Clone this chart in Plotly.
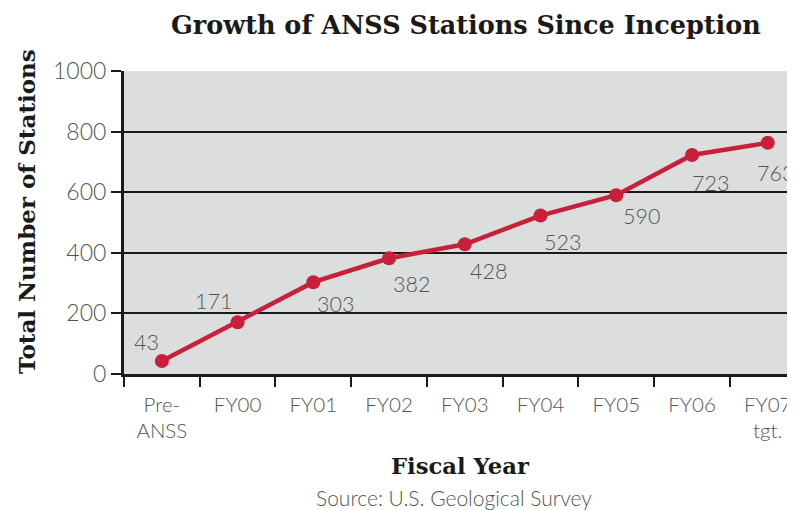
import plotly.graph_objects as go

categories = ["Pre-<br>ANSS", "FY00", "FY01", "FY02", "FY03", "FY04", "FY05", "FY06", "FY07<br>tgt."]
stations = [43, 171, 303, 382, 428, 523, 590, 723, 763]
y_ticks = [0, 200, 400, 600, 800, 1000]

# label offsets (px) from each point: (dx, dy) with dy positive = downward
label_offsets = [(-15, -19), (-24, -21), (22, 22), (22, 26), (24, 27),
                 (22, 26), (25, 21), (18, 28), (8, 30)]

RED = "#c8203a"
GREY_TXT = "#555555"
SANS = "Lato"
SERIF = "DejaVu Serif"

# page body adds an 8px offset; plot area is 116..787 (fig px), 63..366
L, T, PW, PH = 116, 63, 671, 303

def px(x):
    return (x - 8 - L) / PW

def py(y):
    return (T + PH - (y - 8)) / PH

fig = go.Figure()
fig.add_trace(go.Scatter(
    x=categories, y=stations, mode="lines+markers",
    line=dict(color=RED, width=4.5),
    marker=dict(color=RED, size=14),
    cliponaxis=False,
    hoverinfo="skip",
))

annotations = [
    dict(x=c, y=v, xref="x", yref="y", text=str(v), showarrow=False,
         xanchor="center", yanchor="middle", xshift=dx, yshift=-dy,
         font=dict(family=SANS, size=21.5, color=GREY_TXT, weight=300))
    for c, v, (dx, dy) in zip(categories, stations, label_offsets)
]
annotations += [
    dict(text="<b>Growth of ANSS Stations Since Inception</b>", xref="paper", yref="paper",
         x=px(466), y=py(25), xanchor="center", yanchor="middle", showarrow=False,
         font=dict(family=SERIF, size=25.5, color="#1a1a1a")),
    dict(text="<b>Total Number of Stations</b>", xref="paper", yref="paper",
         x=px(26), y=py(212), xanchor="center", yanchor="middle", textangle=-90, showarrow=False,
         font=dict(family=SERIF, size=23, color="#1a1a1a")),
    dict(text="<b>Fiscal Year</b>", xref="paper", yref="paper",
         x=px(460), y=py(466), xanchor="center", yanchor="middle", showarrow=False,
         font=dict(family=SERIF, size=22.7, color="#1a1a1a")),
    dict(text="Source: U.S. Geological Survey", xref="paper", yref="paper",
         x=px(454), y=py(497), xanchor="center", yanchor="middle", showarrow=False,
         font=dict(family=SANS, size=21, color=GREY_TXT, weight=300)),
]

fig.update_layout(
    width=787, height=502,
    margin=dict(l=L, r=0, t=T, b=502 - T - PH),
    paper_bgcolor="white",
    plot_bgcolor="#dcdddd",
    showlegend=False,
    xaxis=dict(
        type="category", range=[-0.5, 8.36], automargin=False,
        tickson="boundaries", ticks="outside", ticklen=10, tickwidth=2, tickcolor="#1a1a1a",
        showline=True, linecolor="#1a1a1a", linewidth=3,
        showgrid=False, zeroline=False, ticklabelstandoff=10,
        tickfont=dict(family=SANS, size=20.5, color=GREY_TXT, weight=300),
    ),
    yaxis=dict(
        range=[0, 1000], tickvals=y_ticks, automargin=False,
        ticks="outside", ticklen=10, tickwidth=2, tickcolor="#1a1a1a",
        showline=True, linecolor="#1a1a1a", linewidth=3,
        showgrid=True, gridcolor="#1a1a1a", gridwidth=2, zeroline=False,
        tickfont=dict(family=SANS, size=23, color=GREY_TXT, weight=300),
        ticklabelstandoff=0,
    ),
    annotations=annotations,
)

fig.write_html("out.html")
